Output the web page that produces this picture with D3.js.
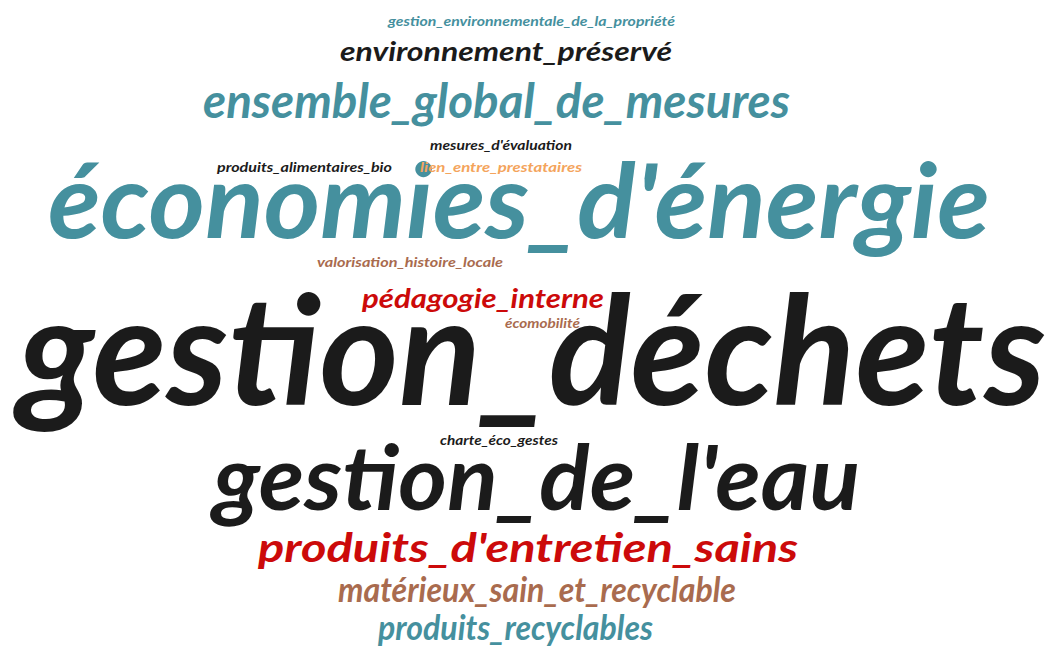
<!DOCTYPE html>
<html>
<head>
<meta charset="utf-8">
<script src="https://cdn.jsdelivr.net/npm/d3@7"></script>
<style>
    body { margin: 0; background: #fff; }
    svg { display: block; }
    .word { font-family: "Lato", "DejaVu Sans", sans-serif; font-style: italic; font-weight: 700; }
</style>
</head>
<body>
<script>
//words of the cloud and how often each one was cited
var words = [
    "gestion_déchets",
    "économies_d'énergie",
    "gestion_de_l'eau",
    "ensemble_global_de_mesures",
    "produits_d'entretien_sains",
    "matérieux_sain_et_recyclable",
    "produits_recyclables",
    "environnement_préservé",
    "pédagogie_interne",
    "gestion_environnementale_de_la_propriété",
    "mesures_d'évaluation",
    "produits_alimentaires_bio",
    "lien_entre_prestataires",
    "valorisation_histoire_locale",
    "écomobilité",
    "charte_éco_gestes"
];
var counts = [21, 14, 12, 6, 5, 4, 4, 3, 3, 1, 1, 1, 1, 1, 1, 1];

//placement found by the cloud layout (left, right, baseline) and colour of each word
var layout = [
    { x0: 18,  x1: 1046, y: 405, c: "#1b1b1b" },
    { x0: 48,  x1: 990,  y: 238, c: "#45909e" },
    { x0: 213, x1: 860,  y: 510, c: "#1b1b1b" },
    { x0: 203, x1: 790,  y: 118, c: "#45909e" },
    { x0: 258, x1: 798,  y: 562, c: "#cc0a0a" },
    { x0: 338, x1: 736,  y: 602, c: "#a96b4e" },
    { x0: 378, x1: 653,  y: 640, c: "#45909e" },
    { x0: 340, x1: 672,  y: 61,  c: "#1b1b1b" },
    { x0: 362, x1: 604,  y: 308, c: "#cc0a0a" },
    { x0: 388, x1: 675,  y: 26,  c: "#45909e" },
    { x0: 430, x1: 572,  y: 150, c: "#1b1b1b" },
    { x0: 217, x1: 392,  y: 172, c: "#1b1b1b" },
    { x0: 420, x1: 582,  y: 172, c: "#f4a45c" },
    { x0: 317, x1: 503,  y: 267, c: "#a96b4e" },
    { x0: 505, x1: 580,  y: 328, c: "#a96b4e" },
    { x0: 440, x1: 558,  y: 445, c: "#1b1b1b" }
];

var w = 1060, h = 653;

//font size from the count
var size = d3.scaleLinear()
    .domain([1, d3.max(counts)])
    .range([13, 152]);

var cloud = words.map(function(d, i) {
    return { text: d, count: counts[i], pos: layout[i] };
});

var svg = d3.select("body")
    .append("svg")
    .attr("width", w)
    .attr("height", h);

svg.selectAll(".word")
    .data(cloud)
    .enter()
    .append("text")
    .attr("class", "word")
    .attr("x", function(d) { return d.pos.x0; })
    .attr("y", function(d) { return d.pos.y; })
    .attr("textLength", function(d) { return d.pos.x1 - d.pos.x0; })
    .attr("lengthAdjust", "spacingAndGlyphs")
    .style("font-size", function(d) { return size(d.count) + "px"; })
    .style("fill", function(d) { return d.pos.c; })
    .text(function(d) { return d.text; });
</script>
</body>
</html>
